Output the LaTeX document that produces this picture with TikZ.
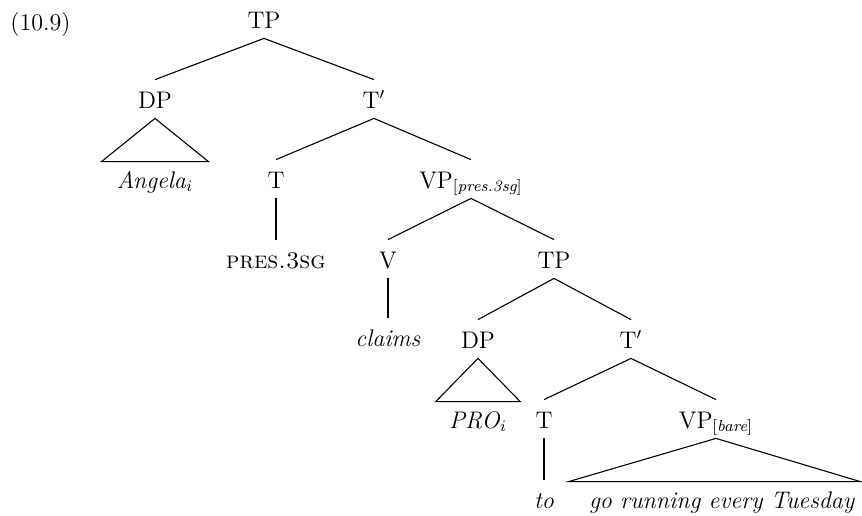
\documentclass[tikz,border=0pt]{standalone}
\begin{document}
\begin{tikzpicture}[x=0.5pt,y=-0.5pt,
  every node/.style={font=\fontsize{12}{14}\selectfont},
  cat/.style={anchor=base,inner sep=0pt,text height=14pt,text depth=5pt},
  branch/.style={line width=0.55pt},
  roof/.style={line width=0.55pt,line join=miter}]
\useasboundingbox (0,0) rectangle (862,515);

% example number
\node[anchor=base west,inner sep=0pt] (num) at (10,30) {(10.9)};

% matrix clause
\node[cat] (tp1) at (264,28) {TP};
\node[cat] (dp1) at (155,108) {DP};
\node[cat] (tb1) at (374,108) {T$'$};
\node[cat] (angela) at (155,188) {\textit{Angela}$_i$};
\node[cat] (t1) at (276,188) {T};
\node[cat] (vp1) at (471,188) {VP\textsubscript{[\textit{pres.3sg}]}};
\node[cat] (pres) at (276,268) {\textsc{pres.3sg}};
\node[cat] (v) at (388,268) {V};
\node[cat] (tp2) at (554,268) {TP};
\node[cat] (claims) at (388,346) {\textit{claims}};

% embedded clause
\node[cat] (dp2) at (478,348) {DP};
\node[cat] (tb2) at (631,348) {T$'$};
\node[cat] (pro) at (478,428) {\textit{PRO}$_i$};
\node[cat] (t2) at (544,428) {T};
\node[cat] (vp2) at (716,428) {VP\textsubscript{[\textit{bare}]}};
\node[cat] (to) at (544,508) {\textit{to}};
\node[cat] (go) at (722,508) {\textit{go running every Tuesday}};

% branches
\draw[branch] (tp1.south) -- (dp1.north);
\draw[branch] (tp1.south) -- (tb1.north);
\draw[branch] (tb1.south) -- (t1.north);
\draw[branch] (tb1.south) -- (vp1.north);
\draw[branch] (t1.south) -- (pres.north);
\draw[branch] (vp1.south) -- (v.north);
\draw[branch] (vp1.south) -- (tp2.north);
\draw[branch] (v.south) -- (claims.north);
\draw[branch] (tp2.south) -- (dp2.north);
\draw[branch] (tp2.south) -- (tb2.north);
\draw[branch] (tb2.south) -- (t2.north);
\draw[branch] (tb2.south) -- (vp2.north);
\draw[branch] (t2.south) -- (to.north);

% roofs over unanalysed constituents
\draw[roof] (dp1.south) -- ([xshift=-7.5pt,yshift=-1pt]angela.north west) -- ([xshift=7.5pt,yshift=-1pt]angela.north east) -- cycle;
\draw[roof] (dp2.south) -- ([xshift=-6.5pt,yshift=-1pt]pro.north west) -- ([xshift=6.5pt,yshift=-1pt]pro.north east) -- cycle;
\draw[roof] (vp2.south) -- ([xshift=-10pt,yshift=-1pt]go.north west) -- ([xshift=2.5pt,yshift=-1pt]go.north east) -- cycle;
\end{tikzpicture}
\end{document}
